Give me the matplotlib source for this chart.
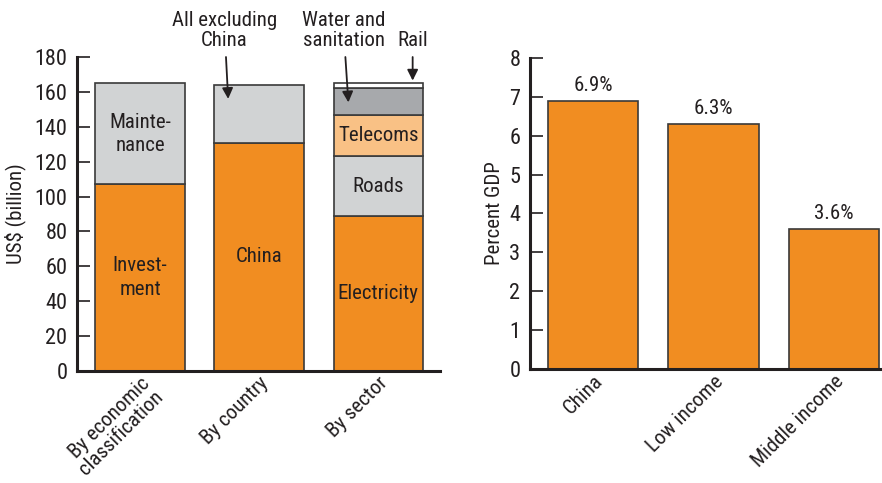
import matplotlib
matplotlib.use("Agg")
import matplotlib.pyplot as plt
import numpy as np

plt.rcParams['font.family'] = ['Roboto Condensed', 'DejaVu Sans']

# Left panel: infrastructure spending, US$ billion
groups = ["By economic\nclassification", "By country", "By sector"]
econ_labels = ["Invest-\nment", "Mainte-\nnance"]
econ_values = [107, 58]
country_labels = ["China", ""]
country_values = [131, 33]
sector_labels = ["Electricity", "Roads", "Telecoms", "", ""]
sector_values = [89, 34, 24, 15, 3]

# Right panel: percent of GDP
income_groups = ["China", "Low income", "Middle income"]
pct_gdp = [6.9, 6.3, 3.6]

ORANGE = "#F18D21"
LGREY = "#D1D3D4"
LORANGE = "#F9C185"
DGREY = "#A7A9AC"
WHITE = "#FFFFFF"
EDGE = "#3a3a3a"
TEXT = "#231F20"

econ_colors = [ORANGE, LGREY]
country_colors = [ORANGE, LGREY]
sector_colors = [ORANGE, LGREY, LORANGE, DGREY, WHITE]

fig = plt.figure(figsize=(8.82, 4.83), dpi=100)
ax1 = fig.add_axes([0.0873, 0.2319, 0.4116, 0.650])
ax2 = fig.add_axes([0.601, 0.236, 0.399, 0.644])

FS = 15
width = 0.75


def stack(ax, x, values, colors, labels):
    bottom = 0
    for v, c, lab in zip(values, colors, labels):
        ax.bar(x, v, width, bottom=bottom, color=c, edgecolor=EDGE, linewidth=1.2)
        if lab:
            ax.text(x, bottom + v / 2, lab, ha="center", va="center",
                    fontsize=FS, color=TEXT, linespacing=1.3)
        bottom += v


stack(ax1, 0, econ_values, econ_colors, econ_labels)
stack(ax1, 1, country_values, country_colors, country_labels)
stack(ax1, 2, sector_values, sector_colors, sector_labels)

ax1.set_ylim(0, 180)
ax1.set_xlim(-0.53, 2.52)
ax1.set_yticks(np.arange(0, 181, 20))
ax1.set_xticks(range(len(groups)))
ax1.set_xticklabels(groups, rotation=45, ha="right", rotation_mode="anchor",
                    fontsize=FS, color=TEXT, linespacing=1.0)
ax1.set_ylabel("US$ (billion)", fontsize=FS, color=TEXT, labelpad=6)

arrow = dict(arrowstyle="-|>", color=TEXT, lw=1.3, mutation_scale=16,
             shrinkA=3, shrinkB=0)
ax1.annotate("All excluding\nChina", xy=(0.74, 156), xytext=(0.71, 184),
             ha="center", va="bottom", fontsize=FS, color=TEXT,
             linespacing=1.1, arrowprops=arrow, annotation_clip=False)
ax1.annotate("Water and\nsanitation", xy=(1.75, 154), xytext=(1.71, 184),
             ha="center", va="bottom", fontsize=FS, color=TEXT,
             linespacing=1.1, arrowprops=arrow, annotation_clip=False)
ax1.annotate("Rail", xy=(2.29, 166.5), xytext=(2.29, 184),
             ha="center", va="bottom", fontsize=FS, color=TEXT,
             arrowprops=arrow, annotation_clip=False)

# Right panel bars
xr = np.arange(len(income_groups))
ax2.bar(xr, pct_gdp, width, color=ORANGE, edgecolor=EDGE, linewidth=1.2)
for x, v in zip(xr, pct_gdp):
    ax2.text(x, v + 0.15, f"{v:.1f}%", ha="center", va="bottom",
             fontsize=FS, color=TEXT)
ax2.set_ylim(0, 8)
ax2.set_xlim(-0.525, 2.4)
ax2.set_yticks(range(0, 9))
ax2.set_xticks(xr)
ax2.set_xticklabels(income_groups, rotation=45, ha="right", rotation_mode="anchor",
                    fontsize=FS, color=TEXT)
ax2.set_ylabel("Percent GDP", fontsize=FS, color=TEXT, labelpad=4)

for ax in (ax1, ax2):
    for s in ("top", "right"):
        ax.spines[s].set_visible(False)
    for s in ("left", "bottom"):
        ax.spines[s].set_linewidth(2.2)
        ax.spines[s].set_color(TEXT)
    ax.tick_params(axis="y", direction="in", length=9, width=1.2,
                   labelsize=FS + 1, colors=TEXT, pad=7)
    ax.tick_params(axis="x", length=0, pad=2)

fig.savefig("out.png", dpi=100)
